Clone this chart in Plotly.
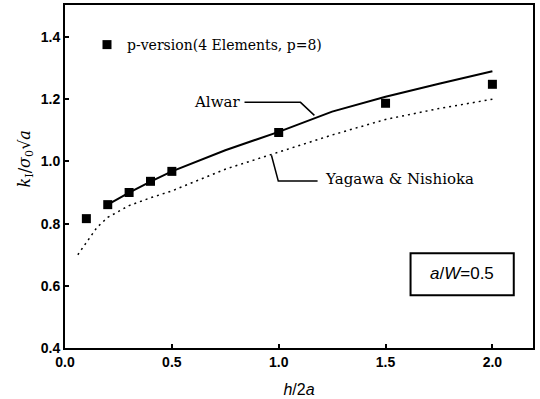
import plotly.graph_objects as go

# p-version results (4 elements, p=8)
p_x = [0.1, 0.2, 0.3, 0.4, 0.5, 1.0, 1.5, 2.0]
p_y = [0.816, 0.861, 0.900, 0.936, 0.968, 1.093, 1.187, 1.248]

# Alwar curve
alwar_x = [0.2, 0.3, 0.4, 0.5, 0.75, 1.0, 1.25, 1.5, 1.75, 2.0]
alwar_y = [0.861, 0.900, 0.935, 0.968, 1.036, 1.095, 1.160, 1.208, 1.250, 1.290]

# Yagawa & Nishioka curve
yag_x = [0.06, 0.1, 0.15, 0.2, 0.3, 0.4, 0.5, 0.75, 1.0, 1.25, 1.5, 1.75, 2.0]
yag_y = [0.700, 0.738, 0.788, 0.820, 0.858, 0.883, 0.905, 0.975, 1.030, 1.085, 1.135, 1.170, 1.200]

x_ticks = [0.0, 0.5, 1.0, 1.5, 2.0]
y_ticks = [0.4, 0.6, 0.8, 1.0, 1.2, 1.4]

serif = "DejaVu Serif"
sans = "Liberation Sans"

fig = go.Figure()
fig.add_trace(go.Scatter(x=alwar_x, y=alwar_y, mode="lines",
                         line=dict(color="black", width=2), showlegend=False))
fig.add_trace(go.Scatter(x=yag_x, y=yag_y, mode="lines",
                         line=dict(color="black", width=1.5, dash="2px,4px"), showlegend=False))
fig.add_trace(go.Scatter(x=p_x, y=p_y, mode="markers", name="p-version(4 Elements, p=8)",
                         marker=dict(symbol="square", size=9, color="black"), showlegend=True))

# leader lines for labels
fig.add_trace(go.Scatter(x=[0.84, 1.102, 1.167], y=[1.190, 1.190, 1.148], mode="lines",
                         line=dict(color="black", width=1.5), showlegend=False, hoverinfo="skip"))
fig.add_trace(go.Scatter(x=[0.966, 0.998, 1.182], y=[1.020, 0.937, 0.937], mode="lines",
                         line=dict(color="black", width=1.5), showlegend=False, hoverinfo="skip"))

fig.add_annotation(x=0.83, y=1.19, xref="x", yref="y", text="Alwar", showarrow=False,
                   xanchor="right", yanchor="middle", font=dict(family=serif, size=15, color="black"))
fig.add_annotation(x=1.205, y=0.943, xref="x", yref="y", text="Yagawa &amp; Nishioka", showarrow=False,
                   xanchor="left", yanchor="middle", font=dict(family=serif, size=15, color="black"))

# a/W box
fig.add_shape(type="rect", x0=1.617, x1=2.1, y0=0.570, y1=0.705, xref="x", yref="y",
              line=dict(color="black", width=2), fillcolor="white")
fig.add_annotation(x=1.86, y=0.638, xref="x", yref="y",
                   text="<i>a</i>/<i>W</i>=0.5", showarrow=False,
                   font=dict(family=sans, size=17, color="black"))

# y-axis title
fig.add_annotation(x=-0.112, y=0.55, xref="paper", yref="paper",
                   text="<i>k</i><sub>I</sub>/<i>σ</i><sub>0</sub>√<i>a</i>", showarrow=False,
                   textangle=-90, font=dict(family=serif, size=16, color="black"))

axis_common = dict(showline=True, linecolor="black", linewidth=2, mirror=True,
                   ticks="inside", ticklen=4, tickcolor="black", tickwidth=1.5,
                   showgrid=False, zeroline=False, automargin=False,
                   tickfont=dict(family=sans, size=14, color="black", weight="bold"))

fig.update_xaxes(range=[0, 2.19], tickvals=x_ticks, ticktext=[f"{v:.1f}" for v in x_ticks],
                 title=dict(text="<i>h</i>/2<i>a</i>", font=dict(family=sans, size=16, color="black"),
                            standoff=15),
                 **axis_common)
fig.update_yaxes(range=[0.4, 1.503], tickvals=y_ticks, ticktext=[f"{v:.1f}" for v in y_ticks],
                 **axis_common)

fig.update_layout(
    width=540, height=399,
    margin=dict(l=65, r=7, t=5, b=51),
    plot_bgcolor="white", paper_bgcolor="white",
    legend=dict(x=0.047, y=0.93, xanchor="left", yanchor="top", bgcolor="rgba(0,0,0,0)",
                font=dict(family=serif, size=14, color="black")),
)

fig.write_html("out.html")
